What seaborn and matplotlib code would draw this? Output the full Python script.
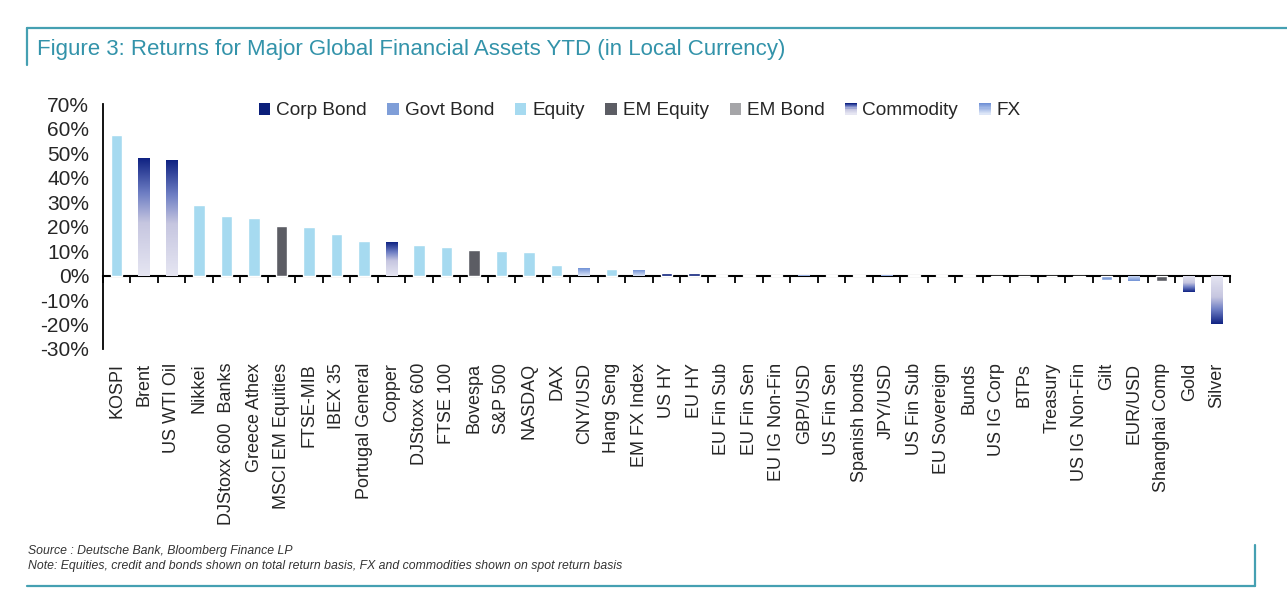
import numpy as np
import pandas as pd
import matplotlib
matplotlib.use("Agg")
import matplotlib.pyplot as plt
import seaborn as sns
from matplotlib.colors import LinearSegmentedColormap
from matplotlib.lines import Line2D
from matplotlib.patches import Rectangle, Patch
from matplotlib.legend_handler import HandlerBase

# Returns YTD (local currency)
assets = ["KOSPI", "Brent", "US WTI Oil", "Nikkei", "DJStoxx 600  Banks", "Greece Athex",
          "MSCI EM Equities", "FTSE-MIB", "IBEX 35", "Portugal General", "Copper",
          "DJStoxx 600", "FTSE 100", "Bovespa", "S&P 500", "NASDAQ", "DAX", "CNY/USD",
          "Hang Seng", "EM FX Index", "US HY", "EU HY", "EU Fin Sub", "EU Fin Sen",
          "EU IG Non-Fin", "GBP/USD", "US Fin Sen", "Spanish bonds", "JPY/USD",
          "US Fin Sub", "EU Sovereign", "Bunds", "US IG Corp", "BTPs", "Treasury",
          "US IG Non-Fin", "Gilt", "EUR/USD", "Shanghai Comp", "Gold", "Silver"]
returns = [57.4, 48.0, 47.2, 28.9, 24.1, 23.6, 20.1, 19.7, 17.1, 14.2, 13.8,
           12.3, 11.5, 10.3, 9.8, 9.5, 4.4, 3.1, 2.8, 2.4, 1.1, 1.1, 0.4, 0.4,
           0.15, 0.05, 0.1, 0.05, 0.05, 0.05, 0.05, 0.05, -0.5, -0.4, -0.3,
           -0.5, -1.9, -2.3, -2.3, -6.8, -19.9]
kinds = ["Equity", "Commodity", "Commodity", "Equity", "Equity", "Equity",
         "EM Equity", "Equity", "Equity", "Equity", "Commodity",
         "Equity", "Equity", "EM Equity", "Equity", "Equity", "Equity", "FX",
         "Equity", "FX", "Corp Bond", "Corp Bond", "Corp Bond", "Corp Bond",
         "Corp Bond", "FX", "Corp Bond", "Govt Bond", "FX",
         "Corp Bond", "Govt Bond", "Govt Bond", "Corp Bond", "Govt Bond", "Govt Bond",
         "Corp Bond", "Govt Bond", "FX", "EM Equity", "Commodity", "Commodity"]
legend_order = ["Corp Bond", "Govt Bond", "Equity", "EM Equity", "EM Bond", "Commodity", "FX"]

palette = {"Corp Bond": "#0b1f7a", "Govt Bond": "#7f9ed8", "Equity": "#a6daf0",
           "EM Equity": "#5c5d64", "EM Bond": "#a5a5a8", "Commodity": "#1a2d8a",
           "FX": "#8aa6e0"}
gradients = {
    "Commodity": LinearSegmentedColormap.from_list(
        "comm", [(0, "#e6e6f2"), (0.45, "#c6c6e0"), (0.7, "#6f7fc4"), (1, "#0f2282")]),
    "FX": LinearSegmentedColormap.from_list(
        "fx", [(0, "#dde6f7"), (1, "#7091d6")]),
}

teal = "#45a0b2"

df = pd.DataFrame({"asset": assets, "ret": returns, "kind": kinds})

sns.set_style("white")
plt.rcParams["font.family"] = ["Liberation Sans", "DejaVu Sans"]

fig = plt.figure(figsize=(12.87, 6.14), dpi=100)
ax = fig.add_axes([0.080, 0.4316, 0.876, 0.399])

sns.barplot(data=df, x="asset", y="ret", hue="kind", palette=palette, order=assets,
            dodge=False, width=0.42, legend=False, ax=ax, saturation=1)

# gradient fills for commodities and FX (light at zero, dark at the bar end)
for p in list(ax.patches):
    h = p.get_height()
    if not np.isfinite(h) or h == 0:
        continue
    i = int(round(p.get_x() + p.get_width() / 2))
    k = kinds[i]
    if k in gradients:
        p.set_facecolor("none")
        p.set_edgecolor("none")
        grad = np.linspace(0, 1, 256).reshape(-1, 1)
        x0, y0 = p.get_x(), p.get_y()
        im = ax.imshow(grad, cmap=gradients[k], aspect="auto", origin="lower",
                       extent=[x0, x0 + p.get_width(), y0, y0 + h], zorder=p.get_zorder())
        im.set_clip_path(p)

ax.set_xlim(-0.5, len(assets) - 0.5)
ax.set_ylim(-30, 70)
ax.set_aspect("auto")

for s in ["top", "right", "bottom"]:
    ax.spines[s].set_visible(False)
ax.spines["left"].set_color("black")
ax.spines["left"].set_linewidth(1.3)

ax.set_yticks(np.arange(-30, 71, 10))
ax.set_yticklabels([f"{v}%" for v in range(-30, 71, 10)], fontsize=15)
ax.tick_params(axis="y", direction="out", length=5, width=1.3, color="black", pad=5)

ax.set_xticks(range(len(assets)))
ax.set_xticklabels(assets, rotation=90, fontsize=13, va="top", ha="center")
ax.tick_params(axis="x", length=0, pad=10)
ax.set_xlabel("")
ax.set_ylabel("")

# zero line with category boundary ticks
zero_ax = ax.secondary_xaxis(0.3)
zero_ax.set_xticks(np.arange(len(assets) + 1) - 0.5)
zero_ax.set_xticklabels([])
zero_ax.tick_params(axis="x", direction="out", length=5, width=1.3, color="black")
zero_ax.spines["bottom"].set_linewidth(1.5)
zero_ax.spines["bottom"].set_color("black")


class GradientHandler(HandlerBase):
    def __init__(self, cmap, n=10):
        super().__init__()
        self.cmap = cmap
        self.n = n

    def create_artists(self, legend, orig_handle, xdescent, ydescent, width, height,
                       fontsize, trans):
        arts = []
        for j in range(self.n):
            r = Rectangle((-xdescent, -ydescent + j * height / self.n), width,
                          height / self.n, facecolor=self.cmap(j / (self.n - 1)),
                          edgecolor="none", transform=trans)
            arts.append(r)
        return arts


handles = [Patch(facecolor=palette[k], edgecolor="none", label=k) for k in legend_order]
hmap = {handles[legend_order.index(k)]: GradientHandler(gradients[k]) for k in gradients}
ax.legend(handles=handles, labels=legend_order, handler_map=hmap, ncol=7, frameon=False,
          loc="center", bbox_to_anchor=(0.476, 0.972), fontsize=13.7,
          handlelength=0.6, handleheight=0.6, handletextpad=0.3, columnspacing=1.1)

# title, notes and frame
fig.text(0.0287, 0.9186, "Figure 3: Returns for Major Global Financial Assets YTD (in Local Currency)",
         fontsize=16, color="#3393aa", va="center", ha="left",
         family=["Liberation Sans Narrow", "Liberation Sans", "DejaVu Sans"])
fig.text(0.0218, 1 - 551 / 614, "Source : Deutsche Bank, Bloomberg Finance LP",
         fontsize=8.8, style="italic", color="#333333", va="center")
fig.text(0.0218, 1 - 566 / 614,
         "Note: Equities, credit and bonds shown on total return basis, FX and commodities shown on spot return basis",
         fontsize=8.8, style="italic", color="#333333", va="center")

fig.add_artist(Line2D([27 / 1287, 1], [1 - 28 / 614] * 2, color=teal, lw=1.6,
                      transform=fig.transFigure))
fig.add_artist(Line2D([27 / 1287] * 2, [1 - 28 / 614, 1 - 65 / 614], color=teal, lw=1.6,
                      transform=fig.transFigure))
fig.add_artist(Line2D([27 / 1287, 1255 / 1287], [1 - 586 / 614] * 2, color=teal, lw=1.6,
                      transform=fig.transFigure))
fig.add_artist(Line2D([1255 / 1287] * 2, [1 - 545 / 614, 1 - 586 / 614], color=teal, lw=1.6,
                      transform=fig.transFigure))

fig.savefig("out.png", dpi=100)
